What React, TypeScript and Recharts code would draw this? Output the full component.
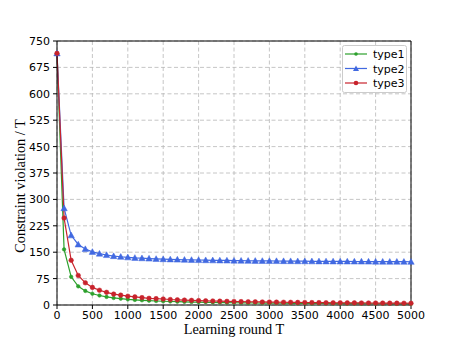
import React from "react";
import { LineChart, Line, XAxis, YAxis, CartesianGrid, ReferenceLine } from "recharts";

const rounds = [0,100,200,300,400,500,600,700,800,900,1000,1100,1200,1300,1400,1500,1600,1700,1800,1900,2000,2100,2200,2300,2400,2500,2600,2700,2800,2900,3000,3100,3200,3300,3400,3500,3600,3700,3800,3900,4000,4100,4200,4300,4400,4500,4600,4700,4800,4900,5000];
const type1 = [715,158,80,53,40,32,27,23,20,18,16,14.5,13.3,12.3,11.4,10.7,10,9.4,8.9,8.4,8,7.6,7.3,7,6.7,6.4,6.2,5.9,5.7,5.5,5.3,5.2,5,4.8,4.7,4.6,4.4,4.3,4.2,4.1,4,3.9,3.8,3.7,3.6,3.6,3.5,3.4,3.3,3.3,3.2];
const type2 = [715,275,198,172,159,151,146,142,139,137,135.5,134,133,132,131,130.3,129.7,129.1,128.6,128.2,127.8,127.4,127,126.7,126.5,126.2,126,125.7,125.5,125.3,125.1,125,124.8,124.7,124.5,124.4,124.2,124.1,124,123.9,123.8,123.7,123.6,123.5,123.4,123.3,123.2,123.1,123.1,123,122.9];
const type3 = [715,247,127,84,63,50,42,36,31,28,25,23,21,19,18,17,15.6,14.7,13.9,13.2,12.5,11.9,11.4,10.9,10.4,10,9.6,9.3,8.9,8.6,8.3,8.1,7.8,7.6,7.4,7.1,6.9,6.8,6.6,6.4,6.3,6.1,6,5.8,5.7,5.6,5.4,5.3,5.2,5.1,5];
const xTicks = [0,500,1000,1500,2000,2500,3000,3500,4000,4500,5000];
const yTicks = [0,75,150,225,300,375,450,525,600,675,750];
const seriesNames = ["type1", "type2", "type3"];
const colors = ["#2ca02c", "#4169e1", "#c8232c"];

const data = rounds.map((t, i) => ({ t, type1: type1[i], type2: type2[i], type3: type3[i] }));

const Triangle = (props: any) => {
  const { cx, cy, fill } = props;
  if (cx == null || cy == null) return <g key={props.key} />;
  const s = 3.2;
  return (
    <polygon
      key={props.key}
      points={`${cx},${cy - s} ${cx - s},${cy + s * 0.8} ${cx + s},${cy + s * 0.8}`}
      fill={fill}
      stroke={fill}
      strokeWidth={0.5}
    />
  );
};

const LegendBox = () => (
  <svg width={66} height={49} style={{ display: "block" }}>
    <rect x={0.5} y={0.5} width={64} height={47} rx={2} fill="#ffffff" fillOpacity={0.85} stroke="#cccccc" />
    {seriesNames.map((n, i) => {
      const y = 9 + i * 14.5;
      return (
        <g key={n}>
          <line x1={3} x2={25} y1={y} y2={y} stroke={colors[i]} strokeWidth={1.2} />
          {i === 1 ? (
            <polygon points={`14,${y - 3} 11,${y + 2.4} 17,${y + 2.4}`} fill={colors[i]} />
          ) : (
            <circle cx={14} cy={y} r={i === 0 ? 1.8 : 2.3} fill={colors[i]} />
          )}
          <text x={31} y={y + 4} fontSize={11} fontFamily="DejaVu Sans" fill="#000">
            {n}
          </text>
        </g>
      );
    })}
  </svg>
);

export default function App() {
  return (
    <div style={{ position: "relative", width: 449, height: 335 }}>
      <LineChart
        width={449}
        height={335}
        data={data}
        margin={{ top: 33, right: 46, bottom: 0, left: 0 }}
        style={{ background: "#fff" }}
      >
        <CartesianGrid stroke="#b8b8b8" strokeDasharray="4 2.5" strokeWidth={0.8} />
        <XAxis
          dataKey="t"
          type="number"
          domain={[0, 5000]}
          ticks={xTicks}
          interval={0}
          height={38}
          tickSize={4}
          tickMargin={2}
          stroke="#000"
          tick={{ fontSize: 11, fontFamily: "DejaVu Sans", fill: "#000" }}
          label={{ value: "Learning round T", position: "insideBottom", offset: 9, style: { fontSize: 14.3, fontFamily: "Liberation Serif", fill: "#000" } }}
        />
        <YAxis
          type="number"
          domain={[0, 750]}
          ticks={yTicks}
          interval={0}
          width={49}
          tickSize={4}
          tickMargin={3}
          stroke="#000"
          tick={{ fontSize: 11, fontFamily: "DejaVu Sans", fill: "#000" }}
          label={{ value: "Constraint violation / T", angle: -90, position: "insideLeft", offset: 12, dy: 13, style: { textAnchor: "middle", fontSize: 14.3, fontFamily: "Liberation Serif", fill: "#000" } }}
        />
        <ReferenceLine y={750} stroke="#000" strokeWidth={1} />
        <ReferenceLine x={5000} stroke="#000" strokeWidth={1} />
        <Line
          dataKey="type1"
          stroke={colors[0]}
          strokeWidth={1.2}
          dot={{ r: 1.8, fill: colors[0], stroke: colors[0], strokeWidth: 0.5 }}
          isAnimationActive={false}
        />
        <Line
          dataKey="type2"
          stroke={colors[1]}
          strokeWidth={1.2}
          dot={(p: any) => <Triangle {...p} fill={colors[1]} />}
          isAnimationActive={false}
        />
        <Line
          dataKey="type3"
          stroke={colors[2]}
          strokeWidth={1.2}
          dot={{ r: 2.3, fill: colors[2], stroke: colors[2], strokeWidth: 0.5 }}
          isAnimationActive={false}
        />
      </LineChart>
      <div style={{ position: "absolute", left: 334, top: 37 }}>
        <LegendBox />
      </div>
    </div>
  );
}
